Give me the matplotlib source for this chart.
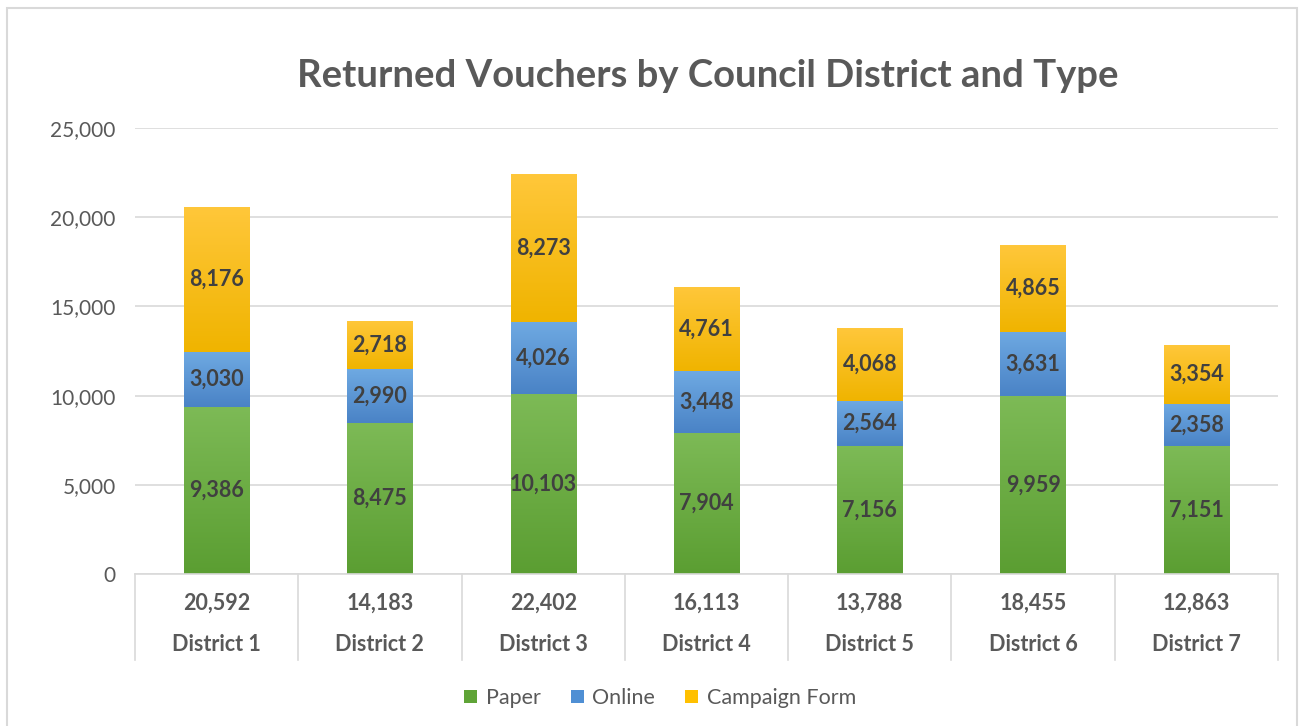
import matplotlib
matplotlib.use("Agg")
import matplotlib.pyplot as plt
import numpy as np
from matplotlib.patches import Rectangle
from matplotlib.colors import LinearSegmentedColormap

plt.rcParams['font.family'] = ['Lato', 'DejaVu Sans']

districts = ["District 1", "District 2", "District 3", "District 4",
             "District 5", "District 6", "District 7"]
paper = [9386, 8475, 10103, 7904, 7156, 9959, 7151]
online = [3030, 2990, 4026, 3448, 2564, 3631, 2358]
campaign = [8176, 2718, 8273, 4761, 4068, 4865, 3354]
series_names = ["Paper", "Online", "Campaign Form"]

# (top colour, bottom colour) for the gradient fill
grad = [("#7dba56", "#5b9e32"), ("#6ea9e2", "#4a83c6"), ("#ffc73a", "#f0b400")]
legend_cols = ["#5fa437", "#4f8fd4", "#ffc000"]

fig = plt.figure(figsize=(13.06, 7.26), dpi=100)
fig.patches.append(Rectangle((7 / 1306, -0.05), 1290 / 1306, 1 - 8 / 726 + 0.05,
                             transform=fig.transFigure, fill=False,
                             edgecolor="#d9d9d9", linewidth=1.5))
ax = fig.add_axes([135 / 1306, 1 - 574 / 726, 1143 / 1306, 446 / 726])

x = np.arange(len(districts))
bottom = np.zeros(len(districts))
for vals, name, (ctop, cbot), lc in zip([paper, online, campaign], series_names, grad, legend_cols):
    bars = ax.bar(x, vals, width=0.4, bottom=bottom, color=lc, label=name, zorder=2)
    cmap = LinearSegmentedColormap.from_list(name, [cbot, ctop])
    for b in bars:
        x0, y0 = b.get_x(), b.get_y()
        w, h = b.get_width(), b.get_height()
        im = ax.imshow(np.linspace(0, 1, 64).reshape(-1, 1), cmap=cmap, origin="lower",
                       extent=[x0, x0 + w, y0, y0 + h], aspect="auto", zorder=2.1)
        im.set_clip_path(b)
    for xi, v, b0 in zip(x, vals, bottom):
        ax.text(xi, b0 + v / 2, f"{v:,}", ha="center", va="center", fontsize=15.5,
                fontweight="bold", color="#404040", zorder=3)
    bottom += np.array(vals)

ax.set_xlim(-0.5, len(districts) - 0.5)
ax.set_ylim(0, 25000)
ax.set_yticks(np.arange(0, 25001, 5000))
ax.set_yticklabels([f"{v:,}" for v in range(0, 25001, 5000)])
ax.tick_params(axis="y", length=0, labelsize=15, labelcolor="#595959", pad=14)
ax.tick_params(axis="x", length=0, labelbottom=False)
ax.grid(axis="y", color="#d9d9d9", linewidth=1.2, zorder=0)
for s in ["top", "right", "left"]:
    ax.spines[s].set_visible(False)
ax.spines["bottom"].set_color("#d9d9d9")
ax.spines["bottom"].set_linewidth(1.2)

trans = ax.get_xaxis_transform()
for bx in np.arange(-0.5, len(districts), 1.0):
    ax.plot([bx, bx], [0, -0.193], transform=trans, color="#d9d9d9", lw=1.2, clip_on=False)
for xi, d, tot in zip(x, districts, bottom):
    ax.text(xi, -0.065, f"{int(tot):,}", transform=trans, ha="center", va="center",
            fontsize=15.5, fontweight="bold", color="#595959")
    ax.text(xi, -0.159, d, transform=trans, ha="center", va="center",
            fontsize=15.5, fontweight="bold", color="#595959")

fig.text(708 / 1306, 1 - 76 / 726, "Returned Vouchers by Council District and Type",
         ha="center", va="center", fontsize=27.5, fontweight="bold", color="#595959")

handles, labels = ax.get_legend_handles_labels()
leg = fig.legend(handles, labels, loc="center", bbox_to_anchor=(660 / 1306, 1 - 698 / 726),
                 ncol=3, frameon=False, fontsize=15.5, handlelength=0.6, handleheight=0.6,
                 handletextpad=0.4, columnspacing=1.4)
for t in leg.get_texts():
    t.set_color("#595959")

fig.savefig("out.png", dpi=100)
